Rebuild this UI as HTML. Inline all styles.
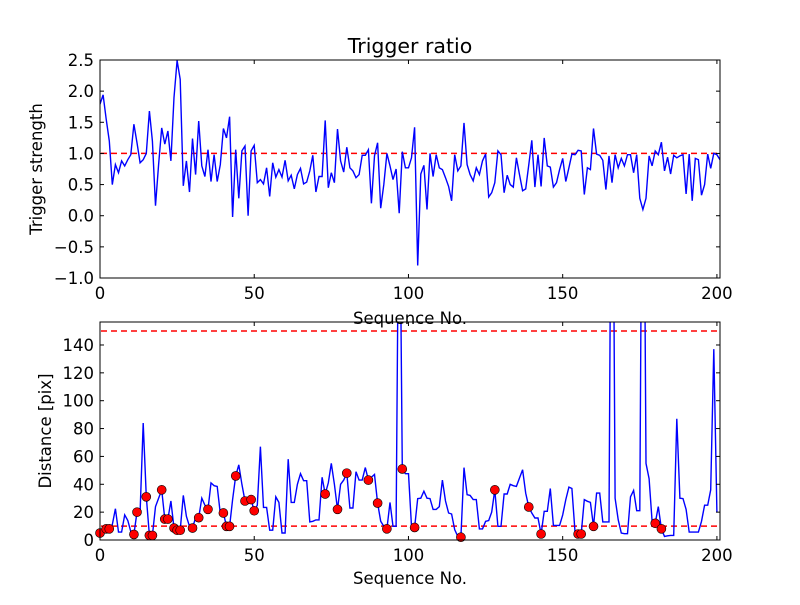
<!DOCTYPE html>
<html><head><meta charset="utf-8"><style>
html,body{margin:0;padding:0;background:#fff}
svg text{font-family:"DejaVu Sans","Liberation Sans",sans-serif;font-size:16.5px;fill:#000}
</style></head><body>
<svg id="fig" width="800" height="600" xmlns="http://www.w3.org/2000/svg">
<rect width="800" height="600" fill="#fff"/>
<defs>
<clipPath id="c1"><rect x="100" y="60" width="620" height="218"/></clipPath>
<clipPath id="c2"><rect x="100" y="322" width="620" height="218"/></clipPath>
</defs>
<g id="top"></g>
<g id="bot"></g>
<text x="410" y="53" text-anchor="middle" style="font-size:20.5px">Trigger ratio</text>
<text x="410" y="324" text-anchor="middle">Sequence No.</text>
<text x="0" y="0" text-anchor="middle" transform="translate(42,169) rotate(-90)">Trigger strength</text>
<text x="410" y="584" text-anchor="middle">Sequence No.</text>
<text x="0" y="0" text-anchor="middle" transform="translate(51,431) rotate(-90)">Distance [pix]</text>
</svg>
<script>
const ratioValues=[1.79,1.94,1.55,1.2,0.5,0.82,0.69,0.88,0.8,0.9,0.98,1.47,1.17,0.85,0.9,1.0,1.68,1.2,0.16,0.82,1.41,1.15,1.36,0.88,1.9,2.49,2.19,0.48,0.88,0.38,1.24,0.66,1.52,0.8,0.63,1.06,0.55,0.98,0.55,0.82,1.4,1.25,1.59,-0.02,1.06,0.28,1.04,1.12,0.0,1.04,1.13,0.53,0.58,0.51,0.77,0.31,0.85,0.62,0.74,0.62,0.89,0.56,0.65,0.43,0.66,0.76,0.51,0.54,0.72,0.97,0.38,0.63,0.63,1.53,0.45,0.69,0.53,1.39,0.88,0.7,1.1,0.77,0.72,0.61,0.66,0.97,0.97,1.06,0.2,0.96,1.17,0.12,0.5,1.0,0.8,0.58,0.75,0.04,1.03,0.77,0.77,0.93,1.42,-0.8,0.67,0.81,0.1,1.0,0.63,0.98,0.77,0.74,0.61,0.47,0.24,0.98,0.72,0.8,1.49,0.82,0.66,0.56,0.77,0.66,0.88,0.99,0.3,0.37,0.53,1.04,0.98,0.37,0.65,0.5,0.46,0.93,0.66,0.4,0.43,0.82,1.21,0.46,0.98,0.47,1.25,0.8,0.78,0.46,0.53,0.74,0.92,0.55,0.77,0.99,0.98,1.05,1.04,0.34,0.77,0.74,1.4,0.99,0.97,0.89,0.42,0.96,0.53,0.98,0.77,0.92,0.8,0.98,0.98,0.69,0.98,0.28,0.1,0.28,0.96,0.8,1.04,0.98,1.18,0.72,0.94,0.67,0.97,0.93,0.96,0.98,0.35,0.99,0.24,0.92,0.9,0.33,0.5,0.99,0.76,1.0,0.98,0.9];
const distValues=[5,7.4,8,8,11,22.5,5.7,5.7,18,14,6,4,20,20,84,31,3.3,3.3,24,30,36,15,15,28,8.6,7,7,32,17,9.8,8.6,16,16,30,25,22,41,39,38.5,19,19.4,9.8,9.8,29,46,54,40,28,28,29,21,25,67,23.4,23.4,7,7,31,27,5,5,58,27,27,40,47.6,42.6,42.6,13,13.4,14.4,14.4,45,33,41,55,40,22,40,43,48,23,23,49,43,43,52,43,45,47,26.5,13.4,9.8,8,27,9.8,9.8,300,51,47.6,47.6,9.8,9,29.7,30,35,30,29.7,22,22,24,43,28,19.4,18.7,7.4,2.6,2,52,32.5,32,29,29,8,8,13.4,14,20,36,9.8,9.8,33,33,40,39,38.5,44.5,50.5,33.7,23.7,19.4,15.8,15.8,4.3,20.6,20.6,37,10.5,10.5,10.5,18,29,38,37,6,4.3,4.3,29,27.8,27,9.8,33.7,33.7,13,13,13,400,30,14.6,5,4.5,4.5,31,35.6,21,21,400,55,44,13.4,12,24,8,2.6,3,3.3,3.3,87,30,29.7,22,5.7,5.7,5.7,5.7,13.4,25,25,36,137,20];
const markerIdx=[0,2,3,11,12,15,16,17,20,21,22,24,25,26,30,32,35,40,41,42,44,47,49,50,73,77,80,87,90,93,98,102,117,128,139,143,155,156,160,180,182];
const xTicks=[0,50,100,150,200];
const topYTicks=[-1.0,-0.5,0.0,0.5,1.0,1.5,2.0,2.5];
const botYTicks=[0,20,40,60,80,100,120,140];
const topThreshold=[1.0];
const botThresholds=[10,150];

const NS="http://www.w3.org/2000/svg";
const XMIN=0,XMAX=201,L=100,R=720;
const xs=v=>L+(v-XMIN)/(XMAX-XMIN)*(R-L);
const yTop=v=>278-(v-(-1))/3.5*218;
const yBot=v=>540-v/156.5*218;
function mk(p,tag,at){const e=document.createElementNS(NS,tag);for(const k in at)e.setAttribute(k,at[k]);p.appendChild(e);return e;}
function axes(g,y0,y1,ys,yt,fmt,clip,lines,values,markers,nm){
  for(const t of lines){
    const l=mk(g,'line',{x1:L+1,x2:R,y1:ys(t),y2:ys(t),stroke:'#ff0000','stroke-width':1.5,'stroke-dasharray':'6,4'});
    
    
  }
  const pts=values.map((v,i)=>xs(i).toFixed(1)+','+ys(v).toFixed(1)).join(' ');
  const pl=mk(g,'polyline',{points:pts,fill:'none',stroke:'#0000ff','stroke-width':1.4,'clip-path':'url(#'+clip+')'});
  
  
  if(markers){for(const i of markers){
    const c=mk(g,'circle',{cx:xs(i),cy:ys(values[i]),r:4.5,fill:'#ff0000',stroke:'#000','stroke-width':0.6});
    
    
  }}
  const fr=mk(g,'rect',{x:L,y:y0,width:R-L,height:y1-y0,fill:'none',stroke:'#000','stroke-width':1});
  
  
  for(const t of xTicks){const x=xs(t);
    mk(g,'line',{x1:x,x2:x,y1:y1,y2:y1-4,stroke:'#000'});mk(g,'line',{x1:x,x2:x,y1:y0,y2:y0+4,stroke:'#000'});
    const tx=mk(g,'text',{x:x,y:y1+21,'text-anchor':'middle'});tx.textContent=t;
    
    
  }
  for(const t of yt){const y=ys(t);
    mk(g,'line',{x1:L,x2:L+4,y1:y,y2:y,stroke:'#000'});mk(g,'line',{x1:R,x2:R-4,y1:y,y2:y,stroke:'#000'});
    const ty=mk(g,'text',{x:L-6,y:y+6,'text-anchor':'end'});ty.textContent=fmt(t);
    
    
  }
}
axes(document.getElementById('top'),60,278,yTop,topYTicks,t=>(t<0?'\u2212':'')+Math.abs(t).toFixed(1),'c1',topThreshold,ratioValues,null,'top');
axes(document.getElementById('bot'),322,540,yBot,botYTicks,t=>String(t),'c2',botThresholds,distValues,markerIdx,'bottom');
</script>
</body></html>
